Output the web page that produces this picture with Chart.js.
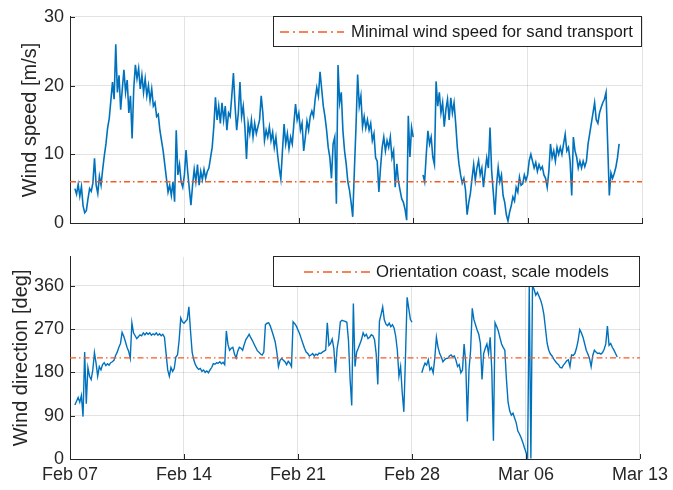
<!DOCTYPE html>
<html><head><meta charset="utf-8">
<script src="https://cdn.jsdelivr.net/npm/chart.js@4.4.1/dist/chart.umd.min.js"></script>
<style>
html,body{margin:0;padding:0;background:#fff;}
#wrap{position:relative;width:673px;height:490px;background:#fff;}
#c1{position:absolute;left:0;top:0;}
#c2{position:absolute;left:0;top:240px;}
</style></head><body>
<div id="wrap"><canvas id="c1" width="673" height="240"></canvas><canvas id="c2" width="673" height="250"></canvas></div>
<script>
// ---- data ----
const dayTicks = [0, 7, 14, 21, 28, 35];
const dayTickLabels = ['Feb 07', 'Feb 14', 'Feb 21', 'Feb 28', 'Mar 06', 'Mar 13'];
const speedTicks = [0, 10, 20, 30];
const directionTicks = [0, 90, 180, 270, 360];
const sampleStart = 0.3;   // days after Feb 07
const sampleStep = 0.1;    // days between samples
const sandThreshold = 6;       // m/s
const coastOrientation = 210;  // deg

const windSpeed = [
  5.0, 4.2, 5.6, 3.9, 5.3, 2.5, 1.5,
  1.8, 3.5, 5.0, 4.6, 5.8, 9.4, 5.5, 4.3, 6.8, 5.5,
  7.8, 9.8, 11.5, 13.8, 15.2, 17.8, 20.5, 18.0, 26.0, 19.0,
  21.5, 16.5, 19.5, 22.3, 19.0, 20.8, 16.0, 18.5, 12.3, 19.5,
  23.0, 21.0, 22.5, 19.5, 21.5, 19.0, 21.0, 18.5, 20.0, 17.8,
  19.5, 17.0, 17.5, 15.5, 15.8, 13.5, 12.0, 10.5, 8.5, 6.5,
  4.5, 5.5, 4.0, 6.0, 3.1, 13.5, 7.0, 8.5, 6.0, 5.2,
  7.0, 10.6, 7.5, 5.0, 2.6, 5.5, 7.8, 6.0, 8.5, 5.5,
  7.5, 6.3, 7.8, 6.5, 7.5, 8.0, 9.5, 11.0, 14.0, 18.3,
  15.0, 17.0, 14.5, 17.5, 15.0, 17.0, 13.5, 16.0, 15.5, 18.5,
  21.8, 17.0, 13.5, 16.0, 20.5, 15.5, 17.0, 14.0, 9.3, 14.5,
  13.0, 15.0, 12.5, 14.5, 13.0, 14.0, 15.0, 18.5, 16.0, 12.0,
  13.5, 12.5, 14.0, 12.0, 13.2, 11.0, 12.5, 10.0, 8.0, 6.4,
  10.5, 14.4, 11.5, 13.0, 10.8, 12.5, 11.5, 14.5, 17.3, 15.0,
  16.0, 13.5, 14.5, 10.5, 12.5, 14.8, 13.5, 15.5, 16.3, 15.5,
  18.0, 19.7, 18.5, 22.0, 19.5, 17.0, 15.5, 13.5, 11.0, 9.5,
  6.5, 11.5, 12.5, 2.8, 23.0, 17.5, 19.0, 13.4, 10.5, 8.6,
  6.0, 4.8, 3.0, 0.9, 7.6, 14.0, 21.6, 17.0, 18.5, 14.0,
  15.5, 13.8, 15.0, 13.5, 14.5, 12.0, 13.0, 9.5, 9.0, 4.5,
  8.0, 11.0, 12.5, 10.5, 12.0, 11.0, 12.5, 9.5, 10.5, 5.2,
  8.6, 6.0, 4.7, 3.5, 3.0, 2.0, 0.4, 15.6, 9.6, 13.9,
  12.5, null, null, null, null, null, 7.0, 6.0, 10.0, 13.4,
  11.5, 12.5, 9.6, 8.5, 20.6, 17.0, 19.0, 16.0, 17.5, 14.0,
  16.5, 18.0, 15.0, 18.2, 16.0, 17.5, 14.5, 11.0, 8.6, 7.0,
  5.8, 6.5, 4.8, 1.2, 3.0, 4.3, 6.5, 8.5, 6.2, 8.0,
  9.1, 7.0, 8.0, 5.2, 7.5, 9.5, 8.0, 13.9, 7.6, 4.5,
  1.2, 5.5, 8.1, 6.0, 7.0, 4.0, 3.0, 1.2, 0.3, 1.6,
  2.5, 3.8, 3.2, 5.2, 4.5, 6.7, 5.5, 5.7, 7.0, 6.2,
  7.0, 9.1, 10.0, 9.0, 8.0, 8.8, 7.5, 8.5, 7.8, 8.2,
  7.0, 6.5, 5.2, 7.5, 11.5, 9.5, 10.5, 9.0, 11.0, 10.0,
  11.0, 10.0, 11.5, 12.9, 10.5, 11.0, 9.0, 4.0, 12.5, 10.5,
  9.6, 8.0, 9.0, 8.0, 9.0, 8.2, 9.0, 11.5, 13.0, 14.5,
  16.0, 17.5, 15.0, 14.5, 16.0, 16.8, 17.5, 18.0, 19.0, 11.5,
  4.0, 7.3, 6.5, 7.2, 8.1, 9.5, 11.5
];

const windDirection = [
  112, 120, 128, 118, 132, 88, 222,
  115, 190, 172, 165, 185, 221, 199, 172, 192, 185,
  196, 200, 194, 198, 195, 200, 202, 205, 215, 222,
  232, 240, 263, 255, 244, 232, 224, 209, 283, 262,
  256, 250, 254, 258, 256, 262, 258, 262, 259, 262,
  257, 260, 258, 262, 257, 260, 256, 259, 253, 219,
  185, 172, 190, 182, 188, 212, 216, 246, 293, 285,
  282, 286, 290, 316, 266, 222, 206, 196, 190, 186,
  188, 182, 185, 180, 183, 179, 185, 190, 198, 197,
  200, 199, 202, 198, 201, 196, 266, 238, 226, 230,
  232, 218, 210, 224, 232, 230, 226, 238, 248, 253,
  259, 252, 246, 239, 232, 225, 222, 218, 216, 222,
  279, 282, 283, 276, 266, 255, 243, 222, 192, 205,
  209, 205, 202, 196, 203, 199, 192, 285, 281, 276,
  268, 260, 250, 240, 230, 222, 219, 214, 216, 219,
  214, 218, 216, 220, 219, 222, 224, 226, 283, 236,
  240, 249, 230, 179, 229, 250, 285, 288, 287, 286,
  284, 246, 165, 111, 323, 192, 222, 230, 239, 248,
  262, 255, 259, 250, 253, 258, 256, 248, 219, 155,
  286, 300, 316, 289, 280, 277, 282, 275, 279, 272,
  255, 226, 172, 192, 138, 98, 212, 336, 313, 290,
  284, null, null, null, null, null, 179, 190, 199, 195,
  206, 185, 190, 179, 210, 253, 232, 219, 212, 202,
  206, 209, 209, 214, 216, 212, 214, 205, 192, 196,
  179, 185, 239, 200, 78, 185, 226, 313, 290, 279,
  268, 259, 240, 165, 219, 230, 239, 219, 253, 185,
  38, 283, 275, 266, 252, 239, 232, 226, 165, 118,
  100, 91, 95, 85, 75, 58, 52, 44, 35, 24,
  14, 3, 359, 1, 360, 352, 340, 346, 338, 330,
  318, 300, 270, 240, 226, 218, 214, 208, 203, 199,
  196, 190, 189, 195, 199, 204, 206, 192, 216, 215,
  219, 230, 246, 269, 262, 253, 240, 226, 218, 209,
  192, 215, 226, 222, 219, 220, 218, 221, 228, 239,
  276, 236, 240, 232, 226, 219, 212
];

// ---- styling ----
const FONT = '"Liberation Sans", Arial, Helvetica, sans-serif';
const AXIS = '#262626';
const GRID = 'rgba(38,38,38,0.13)';
const BLUE = '#0072BD';
const ORANGE = '#F85A22';
Chart.defaults.font.family = FONT;
Chart.defaults.color = AXIS;

const toPoints = arr => arr.map((v, i) => ({ x: +(sampleStart + i * sampleStep).toFixed(2), y: v }));

const inTicks = {
  id: 'inTicks',
  afterDatasetsDraw(chart) {
    const { ctx, chartArea: a, scales: { x, y } } = chart;
    ctx.save();
    ctx.strokeStyle = AXIS; ctx.lineWidth = 1; ctx.beginPath();
    x.ticks.forEach(t => { const p = Math.round(x.getPixelForValue(t.value)) + 0.5; ctx.moveTo(p, a.bottom); ctx.lineTo(p, a.bottom - 5); });
    y.ticks.forEach(t => { const p = Math.round(y.getPixelForValue(t.value)) + 0.5; ctx.moveTo(a.left, p); ctx.lineTo(a.left + 5, p); });
    ctx.stroke(); ctx.restore();
  }
};

function boxLegend(text, sx1, sx2, tx) {
  return {
    id: 'boxLegend',
    afterDraw(chart) {
      const ctx = chart.ctx, a = chart.chartArea;
      const L = 273.5, T = Math.round(a.top) - 0.5, R = Math.round(a.right) - 0.5, H = 30;
      ctx.save();
      ctx.fillStyle = '#fff'; ctx.fillRect(L, T, R - L, H);
      ctx.strokeStyle = AXIS; ctx.lineWidth = 1; ctx.strokeRect(L, T, R - L, H);
      ctx.strokeStyle = ORANGE; ctx.lineWidth = 1.4; ctx.setLineDash([9, 4, 2, 4]);
      ctx.beginPath(); ctx.moveTo(sx1, T + H / 2 + 0.5); ctx.lineTo(sx2, T + H / 2 + 0.5); ctx.stroke();
      ctx.setLineDash([]);
      ctx.fillStyle = '#1a1a1a'; ctx.font = '16.7px ' + FONT; ctx.textBaseline = 'middle'; ctx.textAlign = 'left';
      ctx.fillText(text, tx, T + H / 2 + 1);
      ctx.restore();
    }
  };
}

function makeChart(id, values, yMax, yTicks, refValue, yTitle, titlePad, legendText, lx1, lx2, ltx, showX, pad, xH, lw) {
  return new Chart(document.getElementById(id), {
    type: 'line',
    data: {
      datasets: [
        { data: [{ x: 0, y: refValue }, { x: 35, y: refValue }], borderColor: ORANGE, borderWidth: 1.3,
          borderDash: [6, 3, 1.5, 3], pointRadius: 0, order: 0 },
        { data: toPoints(values), borderColor: BLUE, borderWidth: lw, pointRadius: 0, tension: 0,
          spanGaps: false, order: 1 }
      ]
    },
    options: {
      responsive: false, animation: false, events: [],
      layout: { padding: pad },
      plugins: { legend: { display: false }, tooltip: { enabled: false } },
      scales: {
        x: {
          type: 'linear', min: 0, max: 35,
          afterBuildTicks: s => { s.ticks = dayTicks.map(v => ({ value: v })); },
          afterFit: s => { s.height = xH; },
          ticks: { display: showX, autoSkip: false, maxRotation: 0, padding: 5,
            font: { size: 18 }, color: AXIS,
            callback: v => dayTickLabels[dayTicks.indexOf(v)] },
          grid: { color: GRID, drawTicks: false },
          border: { color: AXIS, width: 1 }
        },
        y: {
          min: 0, max: yMax,
          afterBuildTicks: s => { s.ticks = yTicks.map(v => ({ value: v })); },
          afterFit: s => { s.width = 70; },
          ticks: { padding: 6, font: { size: 18 }, color: AXIS },
          grid: { color: GRID, drawTicks: false },
          border: { color: AXIS, width: 1 },
          title: { display: true, text: yTitle, font: { size: 20 }, color: AXIS, padding: { top: titlePad, bottom: 0 } }
        }
      }
    },
    plugins: [inTicks, boxLegend(legendText, lx1, lx2, ltx)]
  });
}

makeChart('c1', windSpeed, 30, speedTicks, sandThreshold, 'Wind speed [m/s]', 18,
  'Minimal wind speed for sand transport', 280, 344, 351, false,
  { left: 0, right: 31, top: 15, bottom: 0 }, 17, 1.6);
makeChart('c2', windDirection, 420, directionTicks, coastOrientation, 'Wind direction [deg]', 9,
  'Orientation coast, scale models', 304, 370, 376, true,
  { left: 0, right: 31, top: 11, bottom: 0 }, 31, 1.4);
</script>
</body></html>
